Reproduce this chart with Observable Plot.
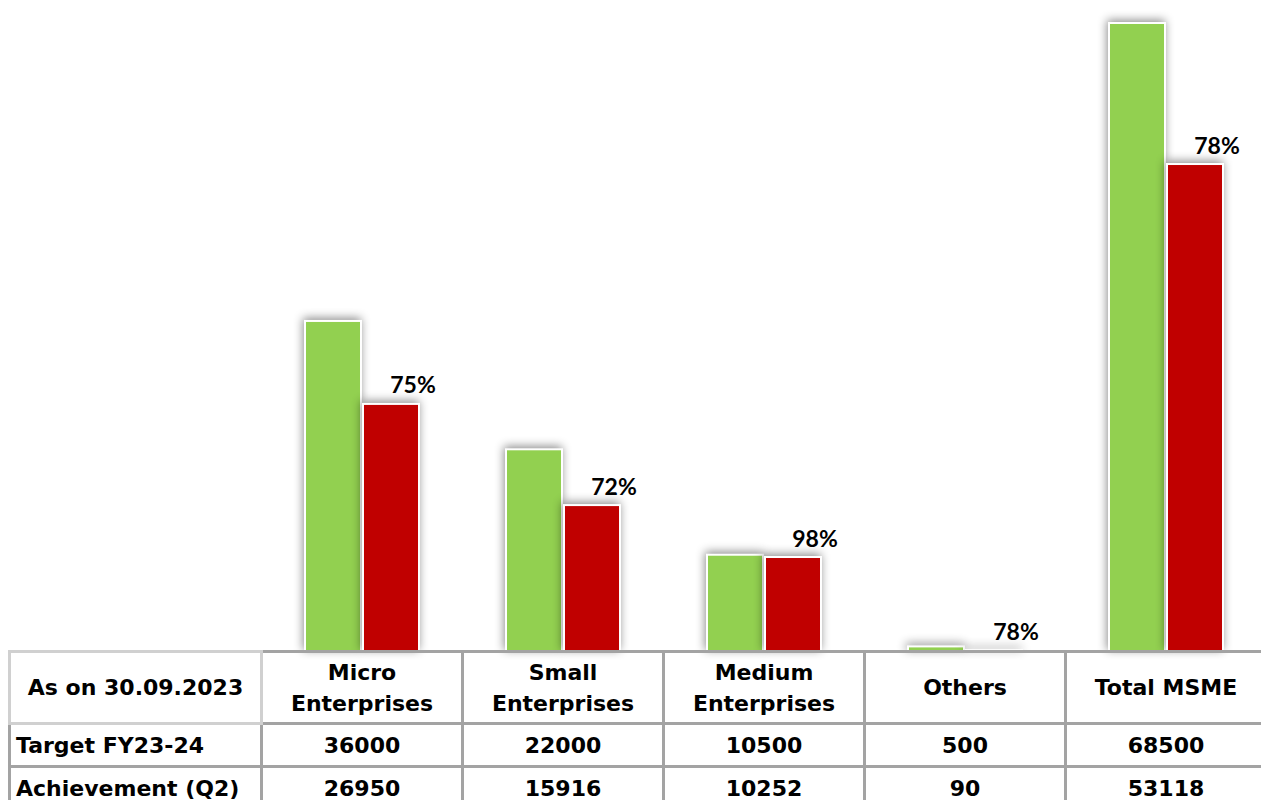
<!DOCTYPE html>
<html><head><meta charset="utf-8">
<script src="https://cdn.jsdelivr.net/npm/d3@7"></script>
<script src="https://cdn.jsdelivr.net/npm/@observablehq/plot@0.6"></script>
<style>
html,body{margin:0;padding:0;background:#fff;}
body{width:1261px;height:800px;overflow:hidden;font-family:"DejaVu Sans",Lato,sans-serif;}
#wrap{position:relative;width:1261px;height:800px;overflow:hidden;}
#chart{position:absolute;left:0;top:0;}
#tbl{position:absolute;left:8px;top:650px;width:1257px;border-collapse:collapse;table-layout:fixed;font-weight:700;font-size:22px;color:#000;}
#tbl td{border:3px solid #a3a3a3;text-align:center;padding:0;line-height:31px;white-space:pre-line;overflow:hidden;}
#tbl td.lab{text-align:left;padding-left:5px;white-space:nowrap;}
#tbl tr.h td{height:69px;}
#tbl tr.r td{height:40px;}
#tbl tr.h td.corner{border-color:#d0d0d0;text-align:center;}
</style></head>
<body><div id="wrap"><div id="chart"></div><table id="tbl"></table></div>
<script>
const cornerLabel = "As on 30.09.2023";
const categories = ["Micro\nEnterprises", "Small\nEnterprises", "Medium\nEnterprises", "Others", "Total MSME"];
const rowLabels = ["Target FY23-24", "Achievement (Q2)"];
const targets = [36000, 22000, 10500, 500, 68500];
const achievements = [26950, 15916, 10252, 90, 53118];
const pctLabels = ["75%", "72%", "98%", "78%", "78%"];

const data = categories.map((c, i) => ({category: c, target: targets[i], achievement: achievements[i], pct: pctLabels[i]}));

const chart = Plot.plot({
  width: 1261,
  height: 651,
  marginTop: 23,
  marginBottom: 0,
  marginLeft: 0,
  marginRight: 0,
  style: {background: "transparent", overflow: "visible"},
  x: {domain: categories, range: [262, 1267], padding: 0, axis: null},
  y: {domain: [0, 68500], axis: null},
  marks: [
    Plot.barY(data, {x: "category", y: "target", fill: "#92d050", stroke: "#fff", strokeWidth: 2, insetLeft: 43, insetRight: 102}),
    Plot.barY(data, {x: "category", y: "achievement", fill: "#c00000", stroke: "#fff", strokeWidth: 2, insetLeft: 101, insetRight: 44}),
    Plot.text(data, {x: "category", y: "achievement", text: "pct", dx: 50, dy: -11, lineAnchor: "bottom", fontSize: 23, fontWeight: 700, fill: "#000", fontFamily: "Lato, sans-serif"})
  ]
});
document.getElementById("chart").appendChild(chart);
chart.querySelectorAll('g[aria-label="bar"]').forEach(g => {
  g.style.filter = "drop-shadow(-1px -2px 5px rgba(0,0,0,0.45))";
});

// table
const tbl = d3.select("#tbl");
const cg = tbl.append("colgroup");
cg.append("col").style("width", "252px");
categories.forEach(() => cg.append("col").style("width", "201px"));
const hr = tbl.append("tr").attr("class", "h");
hr.append("td").attr("class", "corner").text(cornerLabel);
categories.forEach(c => hr.append("td").text(c));
[targets, achievements].forEach((vals, r) => {
  const tr = tbl.append("tr").attr("class", "r");
  tr.append("td").attr("class", "lab").text(rowLabels[r]);
  vals.forEach(v => tr.append("td").text(String(v)));
});
</script>
</body></html>
